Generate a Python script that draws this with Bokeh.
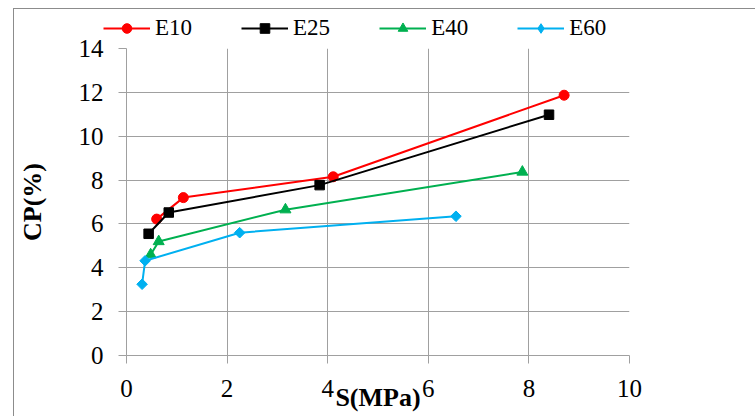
import numpy as np
from bokeh.plotting import figure
from bokeh.models import Range1d, FixedTicker, Legend
from bokeh.embed import file_html
from bokeh.resources import INLINE

# ---- data ----
e10_s = [0.60, 1.13, 4.11, 8.70]
e10_cp = [6.22, 7.20, 8.15, 11.87]
e25_s = [0.44, 0.84, 3.84, 8.40]
e25_cp = [5.55, 6.52, 7.77, 10.98]
e40_s = [0.48, 0.64, 3.16, 7.87]
e40_cp = [4.60, 5.20, 6.65, 8.37]
e60_s = [0.31, 0.37, 2.25, 6.55]
e60_cp = [3.25, 4.32, 5.60, 6.35]

series_names = ["E10", "E25", "E40", "E60"]
x_ticks = [0, 2, 4, 6, 8, 10]
y_ticks = [0, 2, 4, 6, 8, 10, 12, 14]

SERIF = "Liberation Serif"
GRID = "#a0a0a0"
EDGE = "#8c8c8c"

# colour, marker, size, angle, legend marker
styles = [
    ("#ff0000", "circle", 10, 0, "circle"),
    ("#000000", "square", 9.5, 0, "square"),
    ("#00b050", "triangle", 11, 0, "triangle"),
    ("#00b0f0", "square", 7.5, np.pi / 4, "diamond"),
]
data = [(e10_s, e10_cp), (e25_s, e25_cp), (e40_s, e40_cp), (e60_s, e60_cp)]

# ---------------- legend strip (top) ----------------
LEG_H = 39
lf = figure(width=755, height=LEG_H, output_backend="svg", toolbar_location=None,
            x_range=Range1d(0, 1), y_range=Range1d(0, 1),
            x_axis_type=None, y_axis_type=None,
            min_border_left=0, min_border_right=0, min_border_top=0,
            min_border_bottom=0)
lf.outline_line_color = None
lf.background_fill_alpha = 0
lf.border_fill_alpha = 0
lf.grid.visible = False
lf.styles = {
    "background-image": f"linear-gradient({EDGE},{EDGE}), linear-gradient({EDGE},{EDGE})",
    "background-position": "13px 8px, 13px 8px",
    "background-size": "1px 100%, 100% 1px",
    "background-repeat": "no-repeat, no-repeat",
}

nan = [float("nan")]
leg_items = []
for name, (col, mk, sz, ang, lmk) in zip(series_names, styles):
    r1 = lf.line(x=nan, y=nan, line_color=col, line_width=2)
    r2 = lf.scatter(x=nan, y=nan, marker=lmk, size=sz,
                    fill_color=col, line_color=col)
    leg_items.append((name, [r1, r2]))

legend = Legend(items=leg_items, orientation="horizontal", location=(103, -2))
legend.border_line_color = None
legend.background_fill_alpha = 0
legend.padding = 0
legend.margin = 0
legend.spacing = 49
legend.glyph_width = 47
legend.glyph_height = 24
legend.label_height = 24
legend.label_standoff = 5
legend.label_text_font = SERIF
legend.label_text_font_size = "23px"
legend.label_text_color = "black"
lf.add_layout(legend, "center")

# ---------------- main chart ----------------
p = figure(width=755, height=416 - LEG_H, output_backend="svg", toolbar_location=None,
           x_range=Range1d(0, 10), y_range=Range1d(0, 14),
           min_border_left=126, min_border_right=126, min_border_top=48 - LEG_H,
           min_border_bottom=61)
p.styles = {
    "background-image": f"linear-gradient({EDGE},{EDGE})",
    "background-position": "13px 0px",
    "background-size": "1px 100%",
    "background-repeat": "no-repeat",
}
p.outline_line_color = None
p.background_fill_color = "white"
p.border_fill_alpha = 0

for ax in (p.xaxis[0], p.yaxis[0]):
    ax.axis_line_color = GRID
    ax.major_tick_line_color = GRID
    ax.minor_tick_line_color = None
    ax.major_tick_in = 0
    ax.major_tick_out = 8
    ax.major_label_text_font = SERIF
    ax.major_label_text_font_size = "25px"
    ax.major_label_text_color = "black"
    ax.axis_label_text_font = SERIF
    ax.axis_label_text_font_style = "bold"
    ax.axis_label_text_font_size = "26px"
    ax.axis_label_text_color = "black"

p.xaxis.ticker = FixedTicker(ticks=x_ticks)
p.yaxis.ticker = FixedTicker(ticks=y_ticks)
p.xaxis.major_label_standoff = 16
p.yaxis.major_label_standoff = 15
p.xaxis.axis_label = "S(MPa)"
p.yaxis.axis_label = "CP(%)"
p.xaxis.axis_label_standoff = -17
p.yaxis.axis_label_standoff = 29

p.xgrid.ticker = FixedTicker(ticks=x_ticks)
p.ygrid.ticker = FixedTicker(ticks=y_ticks)
p.xgrid.grid_line_color = GRID
p.ygrid.grid_line_color = GRID

for (xs, ys), (col, mk, sz, ang, lmk) in zip(data, styles):
    p.line(xs, ys, line_color=col, line_width=2)
    p.scatter(xs, ys, marker=mk, size=sz, angle=ang, fill_color=col, line_color=col)

open("out.html", "w").write(file_html([lf, p], INLINE))
